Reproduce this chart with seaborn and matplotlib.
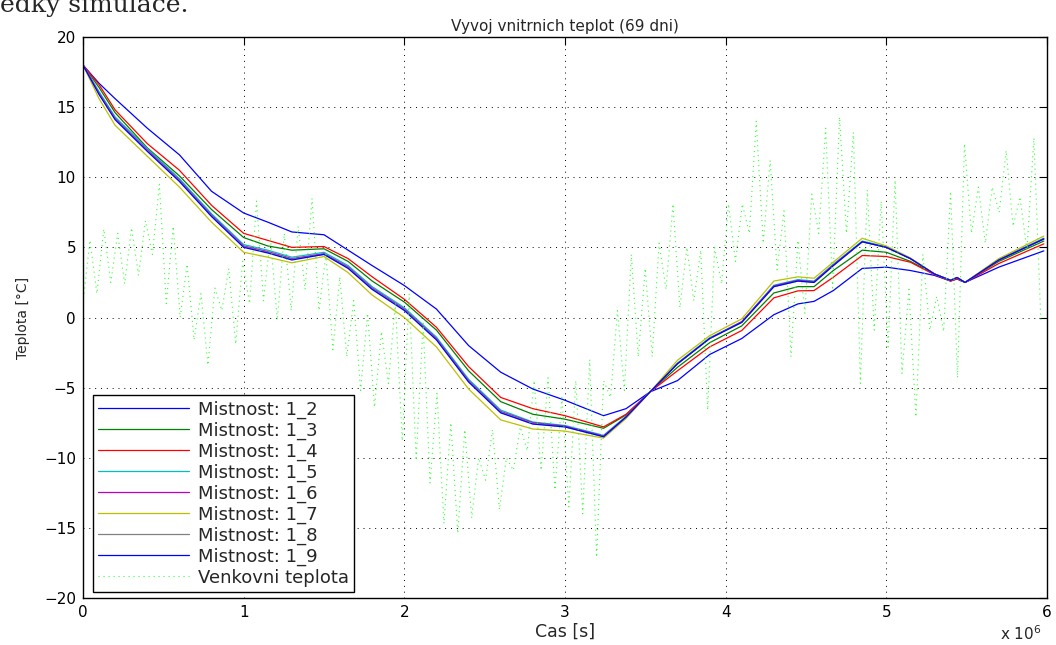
import numpy as np
import pandas as pd
import matplotlib
matplotlib.use("Agg")
import matplotlib.pyplot as plt
from matplotlib.ticker import FixedLocator, FuncFormatter
import seaborn as sns

# ---------------- data (time in 10^6 s, temperature in degC) ----------------
room_t = [0, 0.1, 0.2, 0.4, 0.6, 0.8, 1.0, 1.15, 1.3, 1.5, 1.65, 1.8, 2.0, 2.2, 2.4,
          2.6, 2.8, 3.0, 3.24, 3.38, 3.53, 3.7, 3.9, 4.1, 4.3, 4.45, 4.55, 4.67, 4.85,
          5.0, 5.15, 5.3, 5.4, 5.44, 5.49, 5.7, 5.98]

room_1_2 = [18.0, 16.7, 15.6, 13.5, 11.6, 9.0, 7.45, 6.8, 6.1, 5.9, 4.8, 3.7, 2.28, 0.6, -2.0,
            -3.9, -5.1, -5.9, -7.0, -6.5, -5.3, -4.5, -2.64, -1.5, 0.2, 0.97, 1.15, 1.92, 3.5,
            3.59, 3.35, 3.0, 2.6, 2.75, 2.5, 3.59, 4.75]
room_1_3 = [18.0, 16.4, 14.6, 12.1, 10.1, 7.7, 5.7, 5.1, 4.8, 4.9, 4.0, 2.6, 1.1, -0.9, -3.8,
            -6.0, -6.9, -7.25, -7.9, -6.95, -5.3, -3.55, -1.8, -0.6, 1.75, 2.2, 2.2, 3.35, 4.8,
            4.65, 4.0, 3.1, 2.65, 2.8, 2.5, 4.0, 5.45]
room_1_4 = [18.0, 16.6, 14.8, 12.4, 10.5, 8.0, 6.0, 5.5, 5.0, 5.06, 4.2, 2.9, 1.3, -0.7, -3.5,
            -5.7, -6.5, -7.0, -7.8, -6.9, -5.3, -3.8, -2.1, -0.93, 1.4, 1.9, 1.92, 2.87, 4.42,
            4.35, 3.94, 3.05, 2.6, 2.75, 2.5, 3.85, 5.25]
room_1_5 = [18.0, 16.1, 14.3, 12.05, 9.9, 7.4, 5.2, 4.8, 4.3, 4.65, 3.7, 2.2, 0.7, -1.4, -4.4,
            -6.6, -7.45, -7.7, -8.4, -7.05, -5.3, -3.25, -1.45, -0.3, 2.3, 2.7, 2.6, 3.8, 5.45,
            5.05, 4.2, 3.1, 2.65, 2.85, 2.5, 4.15, 5.65]
room_1_6 = [18.0, 16.0, 14.2, 11.95, 9.8, 7.3, 5.1, 4.7, 4.2, 4.55, 3.6, 2.1, 0.6, -1.5, -4.5,
            -6.7, -7.5, -7.75, -8.45, -7.1, -5.3, -3.3, -1.5, -0.3, 2.25, 2.65, 2.55, 3.75, 5.4,
            5.0, 4.2, 3.1, 2.65, 2.85, 2.5, 4.1, 5.6]
room_1_7 = [18.0, 15.6, 13.7, 11.5, 9.3, 6.8, 4.65, 4.3, 3.9, 4.35, 3.2, 1.6, 0.0, -2.1, -5.1,
            -7.3, -7.95, -8.1, -8.6, -7.2, -5.3, -3.05, -1.3, -0.1, 2.6, 2.9, 2.8, 3.95, 5.65,
            5.1, 4.25, 3.1, 2.65, 2.85, 2.5, 4.2, 5.8]
room_1_8 = [18.0, 15.95, 14.15, 11.9, 9.75, 7.25, 5.05, 4.65, 4.15, 4.5, 3.55, 2.05, 0.55, -1.55, -4.55,
            -6.75, -7.55, -7.8, -8.5, -7.1, -5.3, -3.3, -1.5, -0.35, 2.2, 2.6, 2.5, 3.7, 5.4,
            5.0, 4.2, 3.1, 2.65, 2.85, 2.5, 4.1, 5.6]
room_1_9 = [18.0, 15.9, 14.1, 11.85, 9.7, 7.2, 5.0, 4.6, 4.1, 4.5, 3.5, 2.0, 0.5, -1.6, -4.6,
            -6.8, -7.6, -7.8, -8.5, -7.1, -5.3, -3.3, -1.5, -0.35, 2.2, 2.6, 2.5, 3.7, 5.4,
            5.0, 4.2, 3.1, 2.65, 2.85, 2.5, 4.1, 5.6]

# outside temperature: alternating night low / day high, one pair per day (half-day steps)
outside = [1.0, 5.5, 1.7, 6.3, 2.5, 6.0, 2.4, 6.4, 3.0, 6.9,
           4.5, 9.5, 1.0, 6.5, 0.0, 3.8, -1.6, 1.7, -3.4, 2.1,
           0.5, 3.5, -1.9, 4.0, 1.0, 8.3, 1.2, 5.7, -0.2, 6.0,
           0.5, 6.5, 2.0, 8.5, 0.5, 4.5, -2.3, 2.9, -2.8, 1.2,
           -5.2, 0.3, -6.4, -1.0, -4.7, 1.0, -8.8, 1.7, -10.2, -0.4,
           -11.8, -5.4, -14.7, -7.5, -15.4, -8.0, -14.3, -10.0, -11.6, -8.0,
           -13.7, -10.0, -10.9, -7.8, -9.5, -4.5, -10.9, -4.3, -12.3, -5.7,
           -13.5, -4.5, -14.0, -3.0, -17.1, -4.5, -5.7, 0.5, -5.2, 4.5,
           -2.8, 3.5, -2.8, 5.3, 2.0, 8.1, 0.7, 5.0, 1.2, 4.8,
           -6.6, 5.0, 2.4, 8.1, 4.0, 8.1, 6.0, 14.0, 5.3, 11.2,
           3.4, 7.6, -2.8, 5.5, 0.3, 8.8, 6.0, 13.5, 2.1, 14.3,
           6.0, 13.2, -4.7, 9.1, -0.9, 8.3, -2.1, 9.8, -4.0, 2.0,
           -7.1, 4.5, -0.9, 1.5, -1.0, 9.0, -4.3, 12.4, 6.0, 9.3,
           5.3, 9.3, 7.5, 11.9, 6.5, 8.6, 4.8, 12.8, -0.2]
outside_step_s = 43200  # half a day

room_labels = ["Mistnost: 1_2", "Mistnost: 1_3", "Mistnost: 1_4", "Mistnost: 1_5",
               "Mistnost: 1_6", "Mistnost: 1_7", "Mistnost: 1_8", "Mistnost: 1_9"]
room_series = [room_1_2, room_1_3, room_1_4, room_1_5, room_1_6, room_1_7, room_1_8, room_1_9]
room_colors = [(0, 0, 1), (0, 0.5, 0), (1, 0, 0), (0, 0.75, 0.75),
               (0.75, 0, 0.75), (0.75, 0.75, 0), (0.5, 0.5, 0.5), (0, 0, 1)]
outside_label = "Venkovni teplota"

x_ticks = [0, 1, 2, 3, 4, 5, 6]
y_ticks = [-20, -15, -10, -5, 0, 5, 10, 15, 20]

# ---------------- figure ----------------
sns.set_theme(style="white")
plt.rcParams["font.family"] = ["DejaVu Sans"]
plt.rcParams["axes.linewidth"] = 1.0

fig = plt.figure(figsize=(10.56, 6.45), dpi=100)
ax = fig.add_axes([83 / 1056, 1 - 598 / 645, (1047 - 83) / 1056, (598 - 37) / 645])

for lab, vals, col in zip(room_labels, room_series, room_colors):
    df = pd.DataFrame({"t": np.array(room_t) * 1e6, "T": vals})
    sns.lineplot(data=df, x="t", y="T", ax=ax, color=col, lw=0.9, label=lab)

out_df = pd.DataFrame({"t": np.arange(len(outside)) * outside_step_s, "T": outside})
sns.lineplot(data=out_df, x="t", y="T", ax=ax, color=(0.2, 1, 0.2), lw=0.8,
             linestyle=(0, (1, 3.5)), label=outside_label)

ax.set_xlim(0, 6e6)
ax.set_ylim(-20, 20)
ax.xaxis.set_major_locator(FixedLocator([v * 1e6 for v in x_ticks]))
ax.xaxis.set_major_formatter(FuncFormatter(lambda v, p: f"{v / 1e6:g}"))
ax.yaxis.set_major_locator(FixedLocator(y_ticks))
ax.tick_params(direction="in", length=6, width=0.8, top=True, right=True,
               labelsize=11, colors="black", pad=5)
for s in ax.spines.values():
    s.set_color("black")
    s.set_visible(True)
ax.grid(True, color="black", linestyle=(0, (1, 5)), linewidth=0.7)

ax.set_title("Vyvoj vnitrnich teplot (69 dni)", fontsize=11, pad=4)
ax.set_xlabel("Cas [s]", fontsize=12.5, labelpad=2)
ax.set_ylabel("Teplota [°C]", fontsize=10, labelpad=10)

fig.text(1000 / 1056, 1 - 640 / 645, r"x 10$^{6}$", fontsize=11, ha="left", va="baseline")
fig.text(0.0, 1 - 12 / 645, "edky simulace.", fontsize=18, family="DejaVu Serif",
         ha="left", va="baseline")

leg = ax.legend(loc="lower left", bbox_to_anchor=(0.0104, 0.0107), borderaxespad=0,
                fontsize=13, handlelength=5.0, handletextpad=0.5, labelspacing=0.15,
                borderpad=0.3, frameon=True, fancybox=False)
leg.get_frame().set_edgecolor("black")
leg.get_frame().set_linewidth(1.0)
leg.get_frame().set_alpha(1)

fig.savefig("out.png", dpi=100)
